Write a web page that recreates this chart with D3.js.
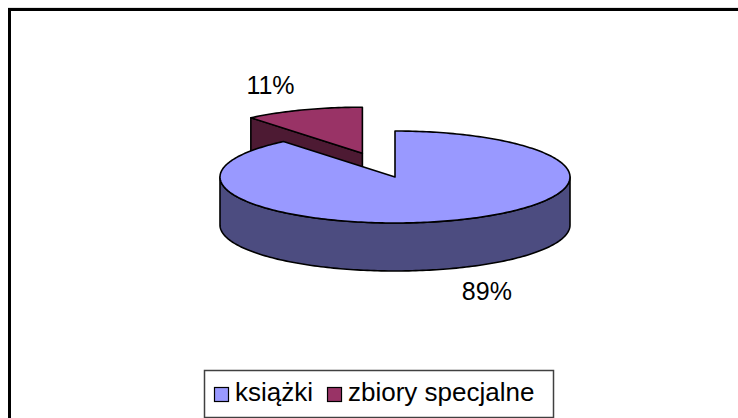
<!DOCTYPE html>
<html><head><meta charset="utf-8">
<script src="https://cdn.jsdelivr.net/npm/d3@7/dist/d3.min.js"></script>
<style>html,body{margin:0;padding:0;background:#fff;}svg{display:block;}</style>
</head><body>
<script>
const categories = ["książki", "zbiory specjalne"];
const values = [89, 11];
const valueLabels = ["89%", "11%"];
const topColors = ["#9999FF", "#993366"];
const sideColors = ["#4C4C80", "#4D1A33"];
const explodeBy = [0, 0.55];

const W = 738, H = 418;
const cx = 395, cy = 177, rx = 175, ry = 46, depth = 48;
const font = "'Liberation Sans', Arial, sans-serif";

const svg = d3.select("body").append("svg").attr("width", W).attr("height", H);

// chart frame
svg.append("line").attr("x1", 8).attr("x2", W).attr("y1", 8).attr("y2", 8).attr("stroke", "#c8c8c8").attr("stroke-width", 1);
svg.append("rect").attr("x", 9.5).attr("y", 9.5).attr("width", W + 20).attr("height", H + 20)
  .attr("fill", "none").attr("stroke", "#000").attr("stroke-width", 3);

const pie = d3.pie().sort(null).value(d => d).startAngle(0).endAngle(2 * Math.PI);
const arcs = pie(values);

function pt(a, r, ox, oy, dz) {
  return [ox + cx + r * rx * Math.sin(a), oy + cy - r * ry * Math.cos(a) + (dz || 0)];
}
function arcPts(a0, a1, ox, oy, dz) {
  const n = Math.max(2, Math.ceil(Math.abs(a1 - a0) / 0.02));
  return d3.range(n + 1).map(i => pt(a0 + (a1 - a0) * i / n, 1, ox, oy, dz));
}
const line = d3.line();
const g = svg.append("g").attr("stroke", "#000").attr("stroke-width", 1.6).attr("stroke-linejoin", "round");

// draw exploded (back) slices first
const order = arcs.map((d, i) => i).sort((a, b) => explodeBy[b] - explodeBy[a]);

order.forEach(i => {
  const d = arcs[i];
  const mid = (d.startAngle + d.endAngle) / 2;
  const ox = explodeBy[i] * rx * Math.sin(mid);
  const oy = -explodeBy[i] * ry * Math.cos(mid);
  const c = [cx + ox, cy + oy];
  // cut faces
  [[d.startAngle, -1], [d.endAngle, 1]].forEach(([a, s]) => {
    if (s * Math.sin(a) > 1e-6) {
      const p = pt(a, 1, ox, oy);
      const pts = [c, p, [p[0], p[1] + depth], [c[0], c[1] + depth]];
      g.append("path").attr("d", line(pts) + "Z").attr("fill", sideColors[i]);
    }
  });
  // outer wall (front half only)
  const w0 = Math.max(d.startAngle, Math.PI / 2), w1 = Math.min(d.endAngle, 3 * Math.PI / 2);
  if (w1 > w0) {
    const top = arcPts(w0, w1, ox, oy, 0);
    const bot = arcPts(w1, w0, ox, oy, depth);
    g.append("path").attr("d", line(top.concat(bot)) + "Z").attr("fill", sideColors[i]);
  }
  // top face
  const topPts = [c].concat(arcPts(d.startAngle, d.endAngle, ox, oy, 0));
  g.append("path").attr("d", line(topPts) + "Z").attr("fill", topColors[i]);
});

// value labels
arcs.forEach((d, i) => {
  const mid = (d.startAngle + d.endAngle) / 2;
  const ox = explodeBy[i] * rx * Math.sin(mid);
  const oy = -explodeBy[i] * ry * Math.cos(mid);
  const front = Math.cos(mid) < 0;
  const p = pt(mid, 1.55, ox, oy, front ? depth : 0);
  svg.append("text").attr("x", p[0]).attr("y", p[1]).attr("dy", "0.3em")
    .attr("text-anchor", "middle").attr("font-family", font).attr("font-size", 25)
    .attr("fill", "#000").text(valueLabels[i]);
});

// legend
const lg = svg.append("g");
const lx = 204, ly = 370, lh = 47, sw = 14, fs = 26;
const box = lg.append("rect").attr("x", lx + 0.5).attr("y", ly + 0.5).attr("height", lh)
  .attr("fill", "#fff").attr("stroke", "#404040").attr("stroke-width", 1.5);
let x = lx + 10;
categories.forEach((c, i) => {
  lg.append("rect").attr("x", x + 0.5).attr("y", ly + 17.5).attr("width", sw).attr("height", sw)
    .attr("fill", topColors[i]).attr("stroke", "#000").attr("stroke-width", 1.2);
  const t = lg.append("text").attr("x", x + sw + 7).attr("y", ly + 31).attr("font-family", font)
    .attr("font-size", fs).attr("fill", "#000").text(c);
  x = x + sw + 7 + t.node().getComputedTextLength() + 14;
});
box.attr("width", 553 - lx);
</script>
</body></html>
